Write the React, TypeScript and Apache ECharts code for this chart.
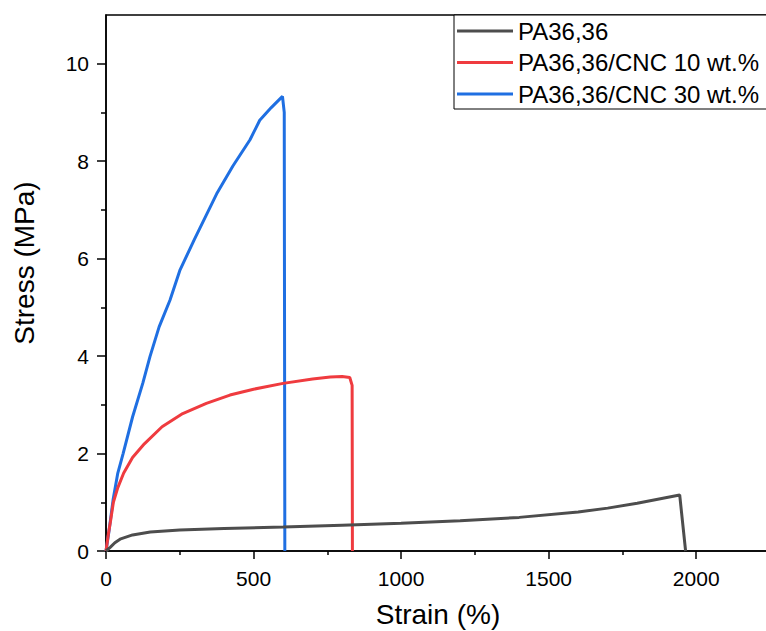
import React, { useEffect, useRef } from "react";
import * as echarts from "echarts";

const seriesNames = ["PA36,36", "PA36,36/CNC 10 wt.%", "PA36,36/CNC 30 wt.%"];
const seriesColors = ["#4d4d4d", "#ef3b3f", "#1f6fe2"];

const neatData: number[][] = [
  [0, 0], [15, 0.08], [30, 0.17], [50, 0.25], [90, 0.33], [150, 0.39], [250, 0.43],
  [400, 0.46], [600, 0.49], [800, 0.53], [1000, 0.57], [1200, 0.62], [1400, 0.69],
  [1600, 0.8], [1700, 0.88], [1800, 0.98], [1944, 1.15], [1964, 0],
];

const cnc10Data: number[][] = [
  [0, 0], [8, 0.35], [15, 0.6], [25, 1.0], [40, 1.3], [60, 1.6], [90, 1.92],
  [130, 2.2], [190, 2.55], [260, 2.82], [340, 3.03], [420, 3.2], [500, 3.32],
  [600, 3.44], [700, 3.53], [760, 3.57], [800, 3.58], [826, 3.56], [834, 3.4], [835, 0],
];

const cnc30Data: number[][] = [
  [0, 0], [10, 0.4], [24, 1.05], [40, 1.6], [58, 2.0], [90, 2.75], [125, 3.45],
  [149, 3.99], [180, 4.6], [217, 5.15], [251, 5.77], [300, 6.4], [375, 7.33],
  [430, 7.9], [488, 8.44], [521, 8.84], [560, 9.1], [598, 9.33], [604, 9.0], [606, 0],
];

const xMajorTicks = [0, 500, 1000, 1500, 2000];
const xMinorTicks = [250, 750, 1250, 1750, 2250];
const yMajorTicks = [0, 2, 4, 6, 8, 10];
const yMinorTicks = [1, 3, 5, 7, 9];

const FONT = "Liberation Sans, Arial, sans-serif";

export default function App() {
  const ref = useRef<HTMLDivElement>(null);
  useEffect(() => {
    document.body.style.margin = "0";
    if (!ref.current) return;
    const chart = echarts.init(ref.current, null, { renderer: "svg" });
    const allData = [neatData, cnc10Data, cnc30Data];
    chart.setOption({
      animation: false,
      backgroundColor: "#fff",
      grid: {
        left: 106,
        top: 15,
        bottom: 80,
        right: -4,
        outerBoundsMode: "none",
        containLabel: false,
        show: true,
        borderColor: "#000",
        borderWidth: 1.5,
        backgroundColor: "transparent",
      },
      legend: {
        orient: "vertical",
        left: 454,
        top: 15,
        padding: [4, 20, 3, 3],
        itemGap: 7.5,
        itemWidth: 56,
        itemHeight: 3,
        icon: "rect",
        borderColor: "#000",
        borderWidth: 1,
        backgroundColor: "#fff",
        textStyle: { fontFamily: FONT, fontSize: 24, color: "#000" },
        data: seriesNames,
      },
      xAxis: [
        {
          type: "value",
          min: 0,
          max: 2250,
          position: "bottom",
          name: "Strain (%)",
          nameLocation: "middle",
          nameGap: 49,
          nameTextStyle: { fontFamily: FONT, fontSize: 28, color: "#000" },
          axisLine: { show: true, onZero: false, lineStyle: { color: "#000", width: 1.5 } },
          axisTick: { show: true, inside: false, length: 8, customValues: xMajorTicks, lineStyle: { color: "#000", width: 1.5 } },
          axisLabel: {
            customValues: xMajorTicks,
            margin: 17,
            fontFamily: FONT,
            fontSize: 21,
            color: "#000",
            formatter: (v: number) => String(v),
          },
          splitLine: { show: false },
        },
        {
          type: "value",
          min: 0,
          max: 2250,
          position: "bottom",
          offset: 0,
          axisLine: { show: false },
          axisTick: { show: true, inside: false, length: 4, customValues: xMinorTicks, lineStyle: { color: "#000", width: 1.5 } },
          axisLabel: { show: false },
          splitLine: { show: false },
        },
      ],
      yAxis: [
        {
          type: "value",
          min: 0,
          max: 11,
          position: "left",
          name: "Stress (MPa)",
          nameLocation: "middle",
          nameGap: 68,
          nameTextStyle: { fontFamily: FONT, fontSize: 28, color: "#000", padding: [0, 0, 0, 40] },
          axisLine: { show: true, onZero: false, lineStyle: { color: "#000", width: 1.5 } },
          axisTick: { show: true, inside: false, length: 9, customValues: yMajorTicks, lineStyle: { color: "#000", width: 1.5 } },
          axisLabel: {
            customValues: yMajorTicks,
            margin: 17,
            fontFamily: FONT,
            fontSize: 21,
            color: "#000",
            formatter: (v: number) => String(v),
          },
          splitLine: { show: false },
        },
        {
          type: "value",
          min: 0,
          max: 11,
          position: "left",
          offset: 0,
          axisLine: { show: false },
          axisTick: { show: true, inside: false, length: 5, customValues: yMinorTicks, lineStyle: { color: "#000", width: 1.5 } },
          axisLabel: { show: false },
          splitLine: { show: false },
        },
      ],
      series: seriesNames.map((name, i) => ({
        name,
        type: "line",
        xAxisIndex: 0,
        yAxisIndex: 0,
        data: allData[i],
        showSymbol: false,
        symbol: "none",
        smooth: false,
        lineStyle: { color: seriesColors[i], width: 3 },
        itemStyle: { color: seriesColors[i] },
        z: 3 - i + 2,
      })),
    });
    return () => chart.dispose();
  }, []);
  return <div ref={ref} style={{ width: 766, height: 631 }} />;
}
